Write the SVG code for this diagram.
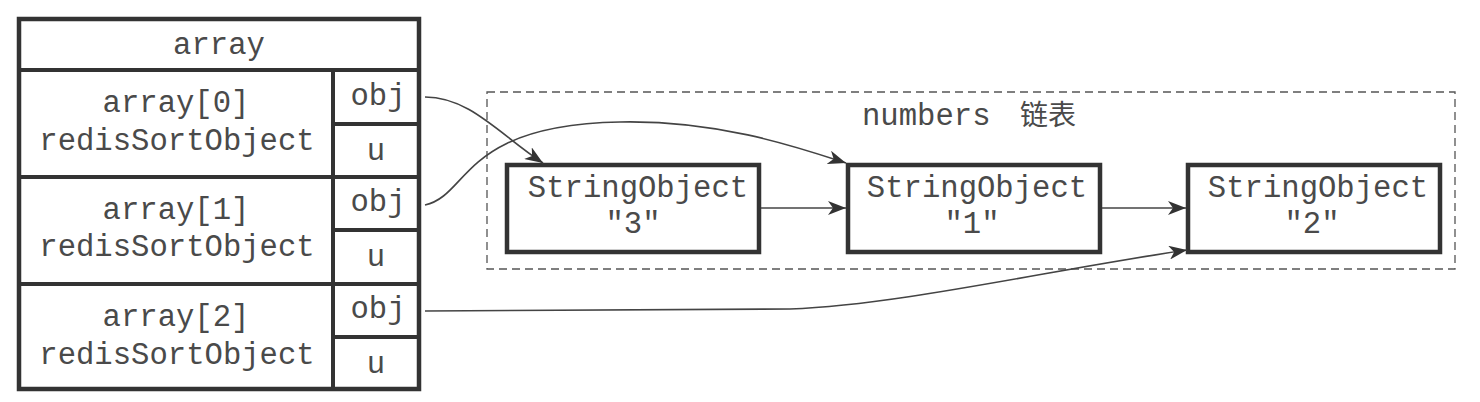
<svg xmlns="http://www.w3.org/2000/svg" width="1480" height="402" viewBox="0 0 1480 402">
<style>
.t{font-family:"Liberation Mono","Courier New",monospace;font-size:30.6px;fill:#4a4a4a}
.m{text-anchor:middle}
.box{fill:#fff;stroke:#333;stroke-width:4.5}
.ln{stroke:#333;stroke-width:4;fill:none}
.c{stroke:#444;stroke-width:1.6;fill:none;marker-end:url(#ah)}
</style>
<defs>
<marker id="ah" markerUnits="userSpaceOnUse" markerWidth="20" markerHeight="14" refX="18" refY="7" orient="auto">
<path d="M0,0 L18,7 L0,14 L5,7 z" fill="#333"/>
</marker>
</defs>
<rect width="1480" height="402" fill="#fff"/>
<g id="array">
<rect class="box" x="19" y="19" width="400" height="370"/>
<line class="ln" x1="19" y1="70" x2="419" y2="70"/>
<line class="ln" x1="19" y1="177" x2="419" y2="177"/>
<line class="ln" x1="19" y1="284" x2="419" y2="284"/>
<line class="ln" x1="333" y1="70" x2="333" y2="389"/>
<line class="ln" x1="333" y1="124" x2="419" y2="124"/>
<line class="ln" x1="333" y1="230" x2="419" y2="230"/>
<line class="ln" x1="333" y1="337" x2="419" y2="337"/>
<text class="t m" x="219" y="54">array</text>
<text class="t m" x="176" y="112">array[0]</text>
<text class="t m" x="177" y="150">redisSortObject</text>
<text class="t m" x="378" y="105">obj</text>
<text class="t m" x="376" y="160">u</text>
<text class="t m" x="176" y="219">array[1]</text>
<text class="t m" x="177" y="256">redisSortObject</text>
<text class="t m" x="378" y="211">obj</text>
<text class="t m" x="376" y="266">u</text>
<text class="t m" x="176" y="326">array[2]</text>
<text class="t m" x="177" y="364">redisSortObject</text>
<text class="t m" x="378" y="318">obj</text>
<text class="t m" x="376" y="373">u</text>
</g>
<g id="numbers">
<rect x="487" y="92" width="968" height="177" fill="none" stroke="#555" stroke-width="1.3" stroke-dasharray="8 5"/>
<text class="t" x="862" y="125">numbers<tspan x="1020" font-family="'Noto Sans CJK SC',sans-serif" font-size="28">链表</tspan></text>
</g>
<g id="so3">
<rect class="box" x="507" y="165" width="252" height="87"/>
<text class="t m" x="638" y="197">StringObject</text>
<text class="t m" x="633" y="233">"3"</text>
</g>
<g id="so1">
<rect class="box" x="848" y="165" width="252" height="87"/>
<text class="t m" x="977" y="197">StringObject</text>
<text class="t m" x="972" y="233">"1"</text>
</g>
<g id="so2">
<rect class="box" x="1188" y="165" width="252" height="87"/>
<text class="t m" x="1318" y="197">StringObject</text>
<text class="t m" x="1312" y="233">"2"</text>
</g>
<g id="connectors">
<path class="c" d="M425,97 C470,97 500,135 543,163"/>
<path class="c" d="M425,205 C470,195 460,125 620,122 C720,120 800,148 846,163"/>
<path class="c" d="M425,311 L790,309 C900,305 1050,270 1187,250"/>
<path class="c" d="M761,208 L846,208"/>
<path class="c" d="M1102,208 L1186,208"/>
</g>
</svg>
